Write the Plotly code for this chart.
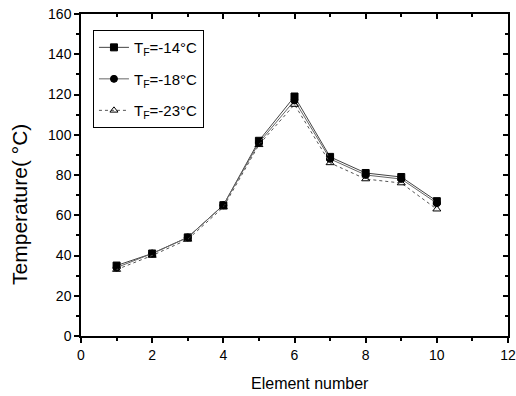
import plotly.graph_objects as go

elements = [1, 2, 3, 4, 5, 6, 7, 8, 9, 10]
t14 = [35, 41, 49, 65, 97, 119, 89, 81, 79, 67]
t18 = [34, 41, 49, 65, 96, 117, 88, 80, 78, 66]
t23 = [33, 40, 48, 64, 95, 115, 86, 78, 76, 63]
labels = ["T<sub>F</sub>=-14°C", "T<sub>F</sub>=-18°C", "T<sub>F</sub>=-23°C"]
x_title = "Element number"
y_title = "Temperature( °C)"

font = "Liberation Sans, Arial, sans-serif"
fig = go.Figure()
styles = [
    (t14, "square", "black", "solid", "#444"),
    (t18, "circle", "black", "solid", "#666"),
    (t23, "triangle-up-open", "black", "dot", "#555"),
]
for i, (ys, sym, mc, dash, lc) in enumerate(styles):
    fig.add_trace(go.Scatter(
        x=elements, y=ys, name=labels[i], mode="lines+markers",
        legendgroup=f"g{i}",
        line=dict(color=lc, width=1, dash=dash),
        marker=dict(symbol=sym, size=7, color=mc, line=dict(color="black", width=1)),
    ))
# invisible trace for mirrored axes
fig.add_trace(go.Scatter(x=[0], y=[0], xaxis="x2", yaxis="y2", mode="markers",
                         marker=dict(opacity=0), showlegend=False, hoverinfo="skip"))

axis_common = dict(showline=True, linecolor="black", linewidth=1.5, showgrid=False,
                   zeroline=False, tickcolor="black", ticklen=5, tickwidth=1.5,
                   automargin=False, ticklabeloverflow="allow")
fig.update_layout(
    width=516, height=396,
    margin=dict(l=81, r=8, t=14, b=60),
    paper_bgcolor="white", plot_bgcolor="white",
    font=dict(family=font, color="black", size=14),
    xaxis=dict(range=[0, 12], dtick=2, ticks="outside",
               minor=dict(dtick=1, ticks="outside", ticklen=3, tickcolor="black"),
               tickfont=dict(size=14),
               **axis_common),
    yaxis=dict(range=[0, 160], dtick=20, ticks="outside",
               minor=dict(dtick=10, ticks="outside", ticklen=3, tickcolor="black"),
               tickfont=dict(size=14),
               **axis_common),
    xaxis2=dict(range=[0, 12], dtick=2, overlaying="x", side="top", anchor="y2",
                ticks="inside", showticklabels=False,
                minor=dict(dtick=1, ticks="inside", ticklen=3, tickcolor="black"),
                **axis_common),
    yaxis2=dict(range=[0, 160], dtick=20, overlaying="y", side="right", anchor="x2",
                ticks="inside", showticklabels=False,
                minor=dict(dtick=10, ticks="inside", ticklen=3, tickcolor="black"),
                **axis_common),
    legend=dict(x=0.028, y=0.95, xanchor="left", yanchor="top",
                bordercolor="black", borderwidth=1, bgcolor="white",
                font=dict(size=15, family=font), traceorder="grouped",
                tracegroupgap=9),
    showlegend=True,
    annotations=[
        dict(text=x_title, xref="paper", yref="paper", x=0.536, y=-0.146,
             xanchor="center", yanchor="middle", showarrow=False,
             font=dict(size=16, family=font)),
        dict(text=y_title, xref="paper", yref="paper", x=-0.143, y=0.41,
             xanchor="center", yanchor="middle", showarrow=False, textangle=-90,
             font=dict(size=21, family=font)),
    ],
)
fig.write_html("out.html", config={"displayModeBar": False},
               post_script="document.body.style.margin='0';document.body.style.overflow='hidden';")
